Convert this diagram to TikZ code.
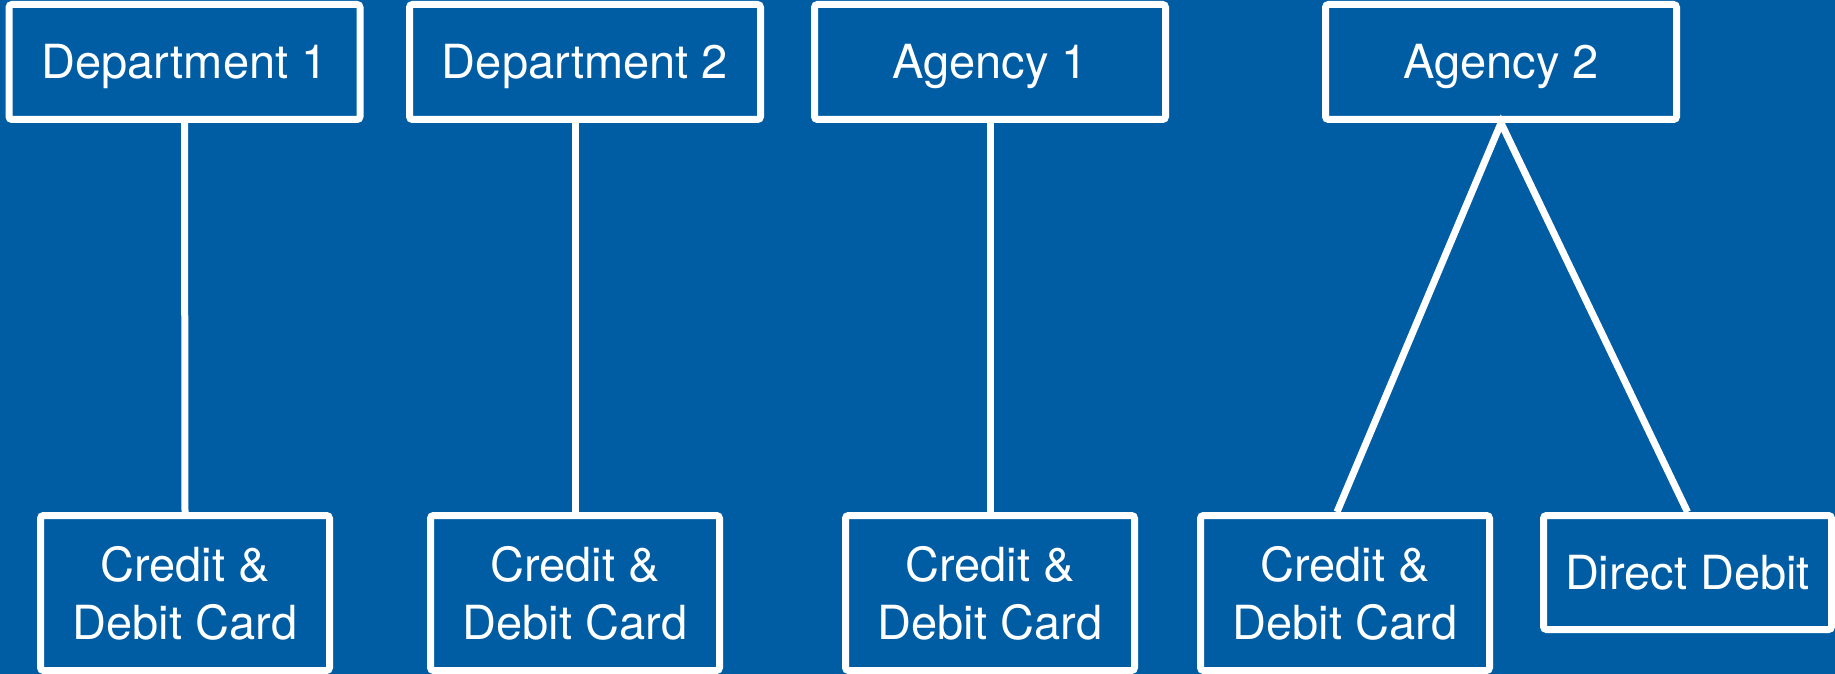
\documentclass[tikz,border=0pt]{standalone}
\usepackage{fontspec}
\setmainfont{TeX Gyre Heros}
\definecolor{bgblue}{RGB}{0,93,164}

\begin{document}
\begin{tikzpicture}[x=1pt,y=-1pt,
  box/.style={draw=white, line width=7pt, rounded corners=3pt, inner sep=0pt,
    text=white, font=\fontsize{47}{58}\selectfont},
  orgbox/.style={box, minimum width=351pt, minimum height=115pt, text height=34pt, text depth=0pt},
  paybox/.style={box, align=center, minimum width=289pt, minimum height=155pt},
  link/.style={white, line width=7pt}]

  % background and page size
  \fill[bgblue] (0,0) rectangle (1835,674);
  \useasboundingbox (0,0) rectangle (1835,674);

  \def\topy{62}
  \def\boty{593}

  % organisations
  \node[orgbox] (dep1) at (184.5,\topy) {Department 1};
  \node[orgbox] (dep2) at (585,\topy) {Department 2};
  \node[orgbox] (ag1) at (990,\topy) {Agency 1};
  \node[orgbox] (ag2) at (1501,\topy) {Agency 2};

  % payment methods
  \node[paybox] (card1) at (185,\boty) {Credit \&\\Debit Card};
  \node[paybox] (card2) at (575,\boty) {Credit \&\\Debit Card};
  \node[paybox] (card3) at (990,\boty) {Credit \&\\Debit Card};
  \node[paybox] (card4) at (1345,\boty) {Credit \&\\Debit Card};
  \node[box, minimum width=288pt, minimum height=114pt, text height=34pt, text depth=0pt]
    (debit) at (1687.5,572.5) {Direct Debit};

  % links
  \draw[link] (dep1.south) -- (card1.north);
  \draw[link] (card2.north |- dep2.south) -- (card2.north);
  \draw[link] (ag1.south) -- (card3.north);
  \draw[link] ([xshift=-8pt]card4.north) -- (ag2.south) -- (debit.north);

\end{tikzpicture}
\end{document}
